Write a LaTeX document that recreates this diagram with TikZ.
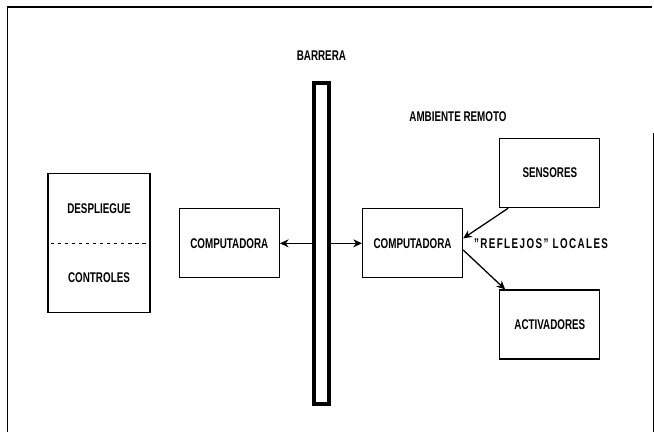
\documentclass[tikz,border=0pt]{standalone}
\usepackage{fontspec}
\setmainfont{Liberation Sans}[FakeStretch=0.7]
\usepackage{tikz}
\usetikzlibrary{arrows.meta, positioning}

\begin{document}
\begin{tikzpicture}[font=\fontsize{12}{14}\selectfont\bfseries, node distance=0.84cm,
  bx/.style={rectangle, draw, line width=1.1pt,
             minimum width=3.0cm, minimum height=2.07cm, align=center},
  wall/.style={rectangle, draw, line width=3.4pt,
               minimum width=0.45cm, minimum height=9.63cm},
  a/.style={-{Stealth[length=2.6mm, width=2.4mm]}, line width=1.1pt}]
  \useasboundingbox (0,0) rectangle (19.62,-12.96);
  % marco
  \coordinate (fa) at (0.225,-12.96);
  \coordinate (fb) at (0.225,-0.21);
  \coordinate (fc) at (19.56,-0.21);
  \coordinate (fd) at (19.59,-4.0);
  \coordinate (fe) at (19.59,-12.96);
  \draw[line width=1.1pt] (fa) -- (fb) -- (fc);
  \draw[line width=0.8pt] (fd) -- (fe);
  % lado local
  \node[bx, minimum width=3.06cm, minimum height=4.17cm] (op) at (2.97,-7.3) {};
  \node at ([yshift=1.03cm]op.center) (desp) {DESPLIEGUE};
  \node at ([yshift=-1.03cm]op.center) (ctrl) {CONTROLES};
  \draw[line width=1.1pt, dashed] ([xshift=0.1cm]op.west) -- ([xshift=-0.1cm]op.east);
  \node[bx, right=of op] (compL) {COMPUTADORA};
  % barrera
  \node[wall, right=0.96cm of compL] (bar) {};
  \node[above=0.5cm of bar] (barlbl) {BARRERA};
  % ambiente remoto
  \node[bx, right=0.93cm of bar] (compR) {COMPUTADORA};
  \node[bx, above right=0cm and 1.08cm of compR] (sens) {SENSORES};
  \node[bx, below right=0.33cm and 1.08cm of compR] (act) {ACTIVADORES};
  \node at (13.74,-3.51) (amb) {AMBIENTE REMOTO};
  \node[right=0.2cm of compR, font={\fontsize{12}{14}\selectfont\bfseries\addfontfeature{LetterSpace=10}}] (refl) {"REFLEJOS" LOCALES};
  \draw[a] (bar.west) -- (compL.east);
  \draw[a] (bar.east) -- (compR.west);
  \draw[a] ([xshift=0.27cm]sens.south west) -- ([yshift=0.15cm]compR.east);
  \draw[a] ([yshift=-0.2cm]compR.east) -- ([xshift=0.18cm]act.north west);
\end{tikzpicture}
\end{document}
